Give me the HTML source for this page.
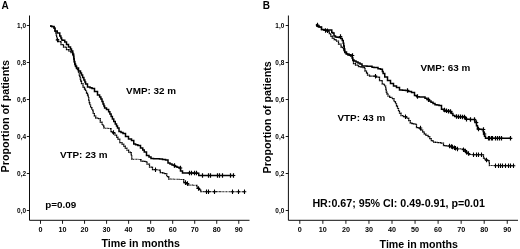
<!DOCTYPE html>
<html><head><meta charset="utf-8"><title>Figure</title>
<style>
html,body{margin:0;padding:0;background:#fff;}
body{width:520px;height:249px;overflow:hidden;}
svg{display:block;will-change:transform;opacity:0.999;}
text{font-family:"Liberation Sans",sans-serif;font-weight:bold;fill:#000;}
.tk{font-size:7.2px;}
.t9{font-size:9.9px;}
.t10{font-size:10px;}
.t10h{font-size:10.7px;}
.t10x{font-size:10.65px;}
.t10y{font-size:10.75px;}
</style></head><body>
<svg width="520" height="249" viewBox="0 0 520 249">
<rect width="520" height="249" fill="#fff"/>
<path d="M29.5,15.5V220.3H249.5" stroke="#000" stroke-width="0.95" fill="none"/>
<path d="M26.8,25.5h2.7M26.8,62.5h2.7M26.8,99.5h2.7M26.8,136.5h2.7M26.8,173.5h2.7M26.8,210.5h2.7M40.50,220.3v3.5M62.53,220.3v3.5M84.56,220.3v3.5M106.59,220.3v3.5M128.62,220.3v3.5M150.65,220.3v3.5M172.68,220.3v3.5M194.71,220.3v3.5M216.74,220.3v3.5M238.77,220.3v3.5" stroke="#000" stroke-width="0.9" fill="none"/>
<text class="tk" transform="translate(26.1,28.1) scale(0.9,1)" text-anchor="end">1,0</text>
<text class="tk" transform="translate(26.1,65.1) scale(0.9,1)" text-anchor="end">0,8</text>
<text class="tk" transform="translate(26.1,102.1) scale(0.9,1)" text-anchor="end">0,6</text>
<text class="tk" transform="translate(26.1,139.1) scale(0.9,1)" text-anchor="end">0,4</text>
<text class="tk" transform="translate(26.1,176.1) scale(0.9,1)" text-anchor="end">0,2</text>
<text class="tk" transform="translate(26.1,213.1) scale(0.9,1)" text-anchor="end">0,0</text>
<text class="tk" x="40.50" y="231.9" text-anchor="middle">0</text>
<text class="tk" x="62.53" y="231.9" text-anchor="middle">10</text>
<text class="tk" x="84.56" y="231.9" text-anchor="middle">20</text>
<text class="tk" x="106.59" y="231.9" text-anchor="middle">30</text>
<text class="tk" x="128.62" y="231.9" text-anchor="middle">40</text>
<text class="tk" x="150.65" y="231.9" text-anchor="middle">50</text>
<text class="tk" x="172.68" y="231.9" text-anchor="middle">60</text>
<text class="tk" x="194.71" y="231.9" text-anchor="middle">70</text>
<text class="tk" x="216.74" y="231.9" text-anchor="middle">80</text>
<text class="tk" x="238.77" y="231.9" text-anchor="middle">90</text>
<path d="M288.4,15.5V220.3H518" stroke="#000" stroke-width="0.95" fill="none"/>
<path d="M285.7,25.5h2.7M285.7,62.5h2.7M285.7,99.5h2.7M285.7,136.5h2.7M285.7,173.5h2.7M285.7,210.5h2.7M299.80,220.3v3.5M322.85,220.3v3.5M345.90,220.3v3.5M368.95,220.3v3.5M392.00,220.3v3.5M415.05,220.3v3.5M438.10,220.3v3.5M461.15,220.3v3.5M484.20,220.3v3.5M507.25,220.3v3.5" stroke="#000" stroke-width="0.9" fill="none"/>
<text class="tk" transform="translate(284.29999999999995,28.1) scale(0.9,1)" text-anchor="end">1,0</text>
<text class="tk" transform="translate(284.29999999999995,65.1) scale(0.9,1)" text-anchor="end">0,8</text>
<text class="tk" transform="translate(284.29999999999995,102.1) scale(0.9,1)" text-anchor="end">0,6</text>
<text class="tk" transform="translate(284.29999999999995,139.1) scale(0.9,1)" text-anchor="end">0,4</text>
<text class="tk" transform="translate(284.29999999999995,176.1) scale(0.9,1)" text-anchor="end">0,2</text>
<text class="tk" transform="translate(284.29999999999995,213.1) scale(0.9,1)" text-anchor="end">0,0</text>
<text class="tk" x="299.80" y="231.9" text-anchor="middle">0</text>
<text class="tk" x="322.85" y="231.9" text-anchor="middle">10</text>
<text class="tk" x="345.90" y="231.9" text-anchor="middle">20</text>
<text class="tk" x="368.95" y="231.9" text-anchor="middle">30</text>
<text class="tk" x="392.00" y="231.9" text-anchor="middle">40</text>
<text class="tk" x="415.05" y="231.9" text-anchor="middle">50</text>
<text class="tk" x="438.10" y="231.9" text-anchor="middle">60</text>
<text class="tk" x="461.15" y="231.9" text-anchor="middle">70</text>
<text class="tk" x="484.20" y="231.9" text-anchor="middle">80</text>
<text class="tk" x="507.25" y="231.9" text-anchor="middle">90</text>
<polyline points="50,26 51.75,26.0 51.75,26.5 53.5,26.5 54.0,26.5 54.0,28.0 54.5,28.0 55.0,28.0 55.0,31.0 55.5,31.0 55.75,31.0 55.75,33.0 56.0,33.0 56.25,33.0 56.25,35.0 56.5,35.0 56.62,35.0 56.62,37.25 56.75,37.25 56.88,37.25 56.88,39.5 57.0,39.5 58.5,39.5 58.5,41.5 60.0,41.5 61.0,41.5 61.0,44.5 62.0,44.5 63.5,44.5 63.5,47.0 65.0,47.0 66.5,47.0 66.5,49.5 68.0,49.5 69.0,49.5 69.0,51.0 70.0,51.0 71.0,51.0 71.0,52.5 72.0,52.5 72.75,52.5 72.75,55.0 73.5,55.0 73.62,55.0 73.62,57.25 73.75,57.25 73.88,57.25 73.88,59.5 74.0,59.5 74.25,59.5 74.25,62.0 74.5,62.0 74.75,62.0 74.75,64.5 75.0,64.5 75.5,64.5 75.5,66.5 76.0,66.5 76.5,66.5 76.5,68.5 77.0,68.5 77.5,68.5 77.5,69.5 78.0,69.5 78.5,69.5 78.5,73.0 79.0,73.0 79.25,73.0 79.25,75.0 79.5,75.0 79.75,75.0 79.75,77.0 80.0,77.0 80.25,77.0 80.25,79.0 80.5,79.0 80.75,79.0 80.75,81.0 81.0,81.0 81.5,81.0 81.5,83.5 82.0,83.5 83.0,83.5 83.0,87.0 84.0,87.0 84.5,87.0 84.5,89.0 85.0,89.0 85.5,89.0 85.5,91.0 86.0,91.0 86.5,91.0 86.5,93.0 87.0,93.0 87.5,93.0 87.5,95.0 88.0,95.0 88.25,95.0 88.25,97.5 88.5,97.5 88.75,97.5 88.75,100.0 89.0,100.0 89.25,100.0 89.25,102.5 89.5,102.5 89.75,102.5 89.75,105.0 90.0,105.0 90.62,105.0 90.62,107.5 91.25,107.5 91.88,107.5 91.88,110.0 92.5,110.0 93.12,110.0 93.12,113.0 93.75,113.0 94.38,113.0 94.38,116.0 95.0,116.0 95.75,116.0 95.75,118.0 96.5,118.0 97.75,118.0 97.75,118.5 99.0,118.5 100.25,118.5 100.25,122.0 101.5,122.0 102.0,122.0 102.0,124.0 102.5,124.0 103.0,124.0 103.0,126.0 103.5,126.0 104.0,126.0 104.0,128.0 104.5,128.0" fill="none" stroke="#000" stroke-width="1.25" stroke-dasharray="1.5 0.3"/>
<polyline points="104.5,128 105.88,128.0 105.88,128.25 107.25,128.25 108.62,128.25 108.62,128.5 110.0,128.5" fill="none" stroke="#000" stroke-width="1.05" stroke-dasharray="0.9 0.55"/>
<polyline points="110,128.5 111.0,128.5 111.0,131.5 112.0,131.5 113.0,131.5 113.0,133.25 114.0,133.25 115.0,133.25 115.0,135.0 116.0,135.0 116.62,135.0 116.62,137.0 117.25,137.0 117.88,137.0 117.88,139.0 118.5,139.0 119.75,139.0 119.75,142.5 121.0,142.5 122.0,142.5 122.0,144.0 123.0,144.0 123.75,144.0 123.75,146.0 124.5,146.0 125.25,146.0 125.25,148.0 126.0,148.0 126.88,148.0 126.88,150.0 127.75,150.0 128.62,150.0 128.62,152.0 129.5,152.0 130.25,152.0 130.25,152.5 131.0,152.5 131.25,152.5 131.25,155.75 131.5,155.75 131.75,155.75 131.75,159.0 132.0,159.0" fill="none" stroke="#000" stroke-width="1.25" stroke-dasharray="1.5 0.3"/>
<polyline points="132,159 133.33,159.0 133.33,159.17 134.67,159.17 136.0,159.17 136.0,159.33 137.33,159.33 138.67,159.33 138.67,159.5 140.0,159.5" fill="none" stroke="#000" stroke-width="1.05" stroke-dasharray="0.9 0.55"/>
<polyline points="140,159.5 141.0,159.5 141.0,161.0 142.0,161.0 143.0,161.0 143.0,161.25 144.0,161.25 145.0,161.25 145.0,161.5 146.0,161.5 147.0,161.5 147.0,164.0 148.0,164.0 149.5,164.0 149.5,167.0 151.0,167.0 152.5,167.0 152.5,169.5 154.0,169.5" fill="none" stroke="#000" stroke-width="1.25" stroke-dasharray="1.5 0.3"/>
<polyline points="154,169.5 155.25,169.5 155.25,169.75 156.5,169.75 157.75,169.75 157.75,170.0 159.0,170.0" fill="none" stroke="#000" stroke-width="1.05" stroke-dasharray="0.9 0.55"/>
<polyline points="159,170 160.25,170.0 160.25,172.5 161.5,172.5 162.62,172.5 162.62,173.0 163.75,173.0 164.88,173.0 164.88,173.5 166.0,173.5 166.75,173.5 166.75,176.5 167.5,176.5 168.75,176.5 168.75,179.0 170.0,179.0" fill="none" stroke="#000" stroke-width="1.25" stroke-dasharray="1.5 0.3"/>
<polyline points="170,179 171.3,179.0 171.3,179.1 172.6,179.1 173.9,179.1 173.9,179.2 175.2,179.2 176.5,179.2 176.5,179.3 177.8,179.3 179.1,179.3 179.1,179.4 180.4,179.4 181.7,179.4 181.7,179.5 183.0,179.5" fill="none" stroke="#000" stroke-width="1.05" stroke-dasharray="0.9 0.55"/>
<polyline points="183,179.5 183.75,179.5 183.75,182.5 184.5,182.5 185.62,182.5 185.62,183.75 186.75,183.75 187.88,183.75 187.88,185.0 189.0,185.0" fill="none" stroke="#000" stroke-width="1.25" stroke-dasharray="1.5 0.3"/>
<polyline points="189,185 190.17,185.0 190.17,185.1 191.33,185.1 192.5,185.1 192.5,185.2 193.67,185.2 194.83,185.2 194.83,185.3 196.0,185.3" fill="none" stroke="#000" stroke-width="1.05" stroke-dasharray="0.9 0.55"/>
<polyline points="196,185.3 197.0,185.3 197.0,188.0 198.0,188.0 199.0,188.0 199.0,189.5 200.0,189.5 200.75,189.5 200.75,191.6 201.5,191.6" fill="none" stroke="#000" stroke-width="1.25" stroke-dasharray="1.5 0.3"/>
<polyline points="201.5,191.6 202.78,191.6 202.78,191.61 204.06,191.61 205.34,191.61 205.34,191.61 206.62,191.61 207.9,191.61 207.9,191.62 209.18,191.62 210.46,191.62 210.46,191.62 211.74,191.62 213.01,191.62 213.01,191.63 214.29,191.63 215.57,191.63 215.57,191.64 216.85,191.64 218.13,191.64 218.13,191.64 219.41,191.64 220.69,191.64 220.69,191.65 221.97,191.65 223.25,191.65 223.25,191.65 224.53,191.65 225.81,191.65 225.81,191.66 227.09,191.66 228.37,191.66 228.37,191.66 229.65,191.66 230.93,191.66 230.93,191.67 232.21,191.67 233.49,191.67 233.49,191.68 234.76,191.68 236.04,191.68 236.04,191.68 237.32,191.68 238.6,191.68 238.6,191.69 239.88,191.69 241.16,191.69 241.16,191.69 242.44,191.69 243.72,191.69 243.72,191.7 245.0,191.7" fill="none" stroke="#000" stroke-width="1.05" stroke-dasharray="0.9 0.55"/>
<polyline points="50,26 51.75,26.0 51.75,26.5 53.5,26.5 54.0,26.5 54.0,28.0 54.5,28.0 55.0,28.0 55.0,31.0 55.5,31.0 57.25,31.0 57.25,33.0 59.0,33.0 59.75,33.0 59.75,36.0 60.5,36.0 60.88,36.0 60.88,38.0 61.25,38.0 61.62,38.0 61.62,40.0 62.0,40.0 62.75,40.0 62.75,40.2 63.5,40.2 64.75,40.2 64.75,42.0 66.0,42.0 66.5,42.0 66.5,44.5 67.0,44.5 68.5,44.5 68.5,47.0 70.0,47.0 70.5,47.0 70.5,49.0 71.0,49.0 71.5,49.0 71.5,51.0 72.0,51.0 72.75,51.0 72.75,54.0 73.5,54.0 73.62,54.0 73.62,56.5 73.75,56.5 73.88,56.5 73.88,59.0 74.0,59.0 74.25,59.0 74.25,61.5 74.5,61.5 74.75,61.5 74.75,64.0 75.0,64.0 75.5,64.0 75.5,66.0 76.0,66.0 76.5,66.0 76.5,68.0 77.0,68.0 78.5,68.0 78.5,71.0 80.0,71.0 80.5,71.0 80.5,73.0 81.0,73.0 81.5,73.0 81.5,75.0 82.0,75.0 82.62,75.0 82.62,77.5 83.25,77.5 83.88,77.5 83.88,80.0 84.5,80.0 84.88,80.0 84.88,82.0 85.25,82.0 85.62,82.0 85.62,84.0 86.0,84.0 87.5,84.0 87.5,87.0 89.0,87.0 90.0,87.0 90.0,87.75 91.0,87.75 92.0,87.75 92.0,88.5 93.0,88.5 94.5,88.5 94.5,91.5 96.0,91.5 97.5,91.5 97.5,95.0 99.0,95.0 99.62,95.0 99.62,97.0 100.25,97.0 100.88,97.0 100.88,99.0 101.5,99.0 102.0,99.0 102.0,101.5 102.5,101.5 103.0,101.5 103.0,104.0 103.5,104.0 103.88,104.0 103.88,106.0 104.25,106.0 104.62,106.0 104.62,108.0 105.0,108.0 106.5,108.0 106.5,109.5 108.0,109.5 108.62,109.5 108.62,111.75 109.25,111.75 109.88,111.75 109.88,114.0 110.5,114.0 111.12,114.0 111.12,116.5 111.75,116.5 112.38,116.5 112.38,119.0 113.0,119.0 113.75,119.0 113.75,121.5 114.5,121.5 115.25,121.5 115.25,124.0 116.0,124.0 116.5,124.0 116.5,126.0 117.0,126.0 117.5,126.0 117.5,128.0 118.0,128.0 119.0,128.0 119.0,131.5 120.0,131.5 121.0,131.5 121.0,132.5 122.0,132.5 123.0,132.5 123.0,133.5 124.0,133.5 125.5,133.5 125.5,136.5 127.0,136.5 128.5,136.5 128.5,139.0 130.0,139.0 131.5,139.0 131.5,140.5 133.0,140.5 133.75,140.5 133.75,144.0 134.5,144.0 135.62,144.0 135.62,144.75 136.75,144.75 137.88,144.75 137.88,145.5 139.0,145.5 140.5,145.5 140.5,148.0 142.0,148.0 142.75,148.0 142.75,150.0 143.5,150.0 144.25,150.0 144.25,152.0 145.0,152.0 146.5,152.0 146.5,155.5 148.0,155.5 149.0,155.5 149.0,157.0 150.0,157.0 151.0,157.0 151.0,158.5 152.0,158.5 153.5,158.5 153.5,158.67 155.0,158.67 156.5,158.67 156.5,158.83 158.0,158.83 159.5,158.83 159.5,159.0 161.0,159.0 162.5,159.0 162.5,159.5 164.0,159.5 165.5,159.5 165.5,160.0 167.0,160.0 168.0,160.0 168.0,163.0 169.0,163.0 170.0,163.0 170.0,164.0 171.0,164.0 172.0,164.0 172.0,165.0 173.0,165.0 174.5,165.0 174.5,166.5 176.0,166.5 177.0,166.5 177.0,167.25 178.0,167.25 179.0,167.25 179.0,168.0 180.0,168.0 180.5,168.0 180.5,171.0 181.0,171.0 182.5,171.0 182.5,173.0 184.0,173.0 185.4,173.0 185.4,173.04 186.8,173.04 188.2,173.04 188.2,173.08 189.6,173.08 191.0,173.08 191.0,173.12 192.4,173.12 193.8,173.12 193.8,173.16 195.2,173.16 196.6,173.16 196.6,173.2 198.0,173.2 198.75,173.2 198.75,175.5 199.5,175.5 200.83,175.5 200.83,175.51 202.15,175.51 203.48,175.51 203.48,175.52 204.81,175.52 206.13,175.52 206.13,175.52 207.46,175.52 208.79,175.52 208.79,175.53 210.12,175.53 211.44,175.53 211.44,175.54 212.77,175.54 214.1,175.54 214.1,175.55 215.42,175.55 216.75,175.55 216.75,175.55 218.08,175.55 219.4,175.55 219.4,175.56 220.73,175.56 222.06,175.56 222.06,175.57 223.38,175.57 224.71,175.57 224.71,175.58 226.04,175.58 227.37,175.58 227.37,175.58 228.69,175.58 230.02,175.58 230.02,175.59 231.35,175.59 232.67,175.59 232.67,175.6 234.0,175.6" fill="none" stroke="#000" stroke-width="1.5"/>
<polyline points="316,25 317.0,25.0 317.0,26.0 318.0,26.0 319.0,26.0 319.0,27.0 320.0,27.0 321.5,27.0 321.5,29.5 323.0,29.5 324.0,29.5 324.0,30.0 325.0,30.0 326.75,30.0 326.75,31.0 328.5,31.0 329.25,31.0 329.25,33.5 330.0,33.5 330.75,33.5 330.75,36.0 331.5,36.0 332.25,36.0 332.25,38.0 333.0,38.0 334.0,38.0 334.0,39.5 335.0,39.5 336.0,39.5 336.0,41.0 337.0,41.0 338.5,41.0 338.5,44.0 340.0,44.0 341.0,44.0 341.0,47.0 342.0,47.0 342.75,47.0 342.75,48.5 343.5,48.5 343.88,48.5 343.88,50.5 344.25,50.5 344.62,50.5 344.62,52.5 345.0,52.5 346.0,52.5 346.0,53.9 347.0,53.9 348.0,53.9 348.0,55.3 349.0,55.3 350.5,55.3 350.5,56.0 352.0,56.0 352.25,56.0 352.25,58.25 352.5,58.25 352.75,58.25 352.75,60.5 353.0,60.5 353.5,60.5 353.5,63.5 354.0,63.5 355.5,63.5 355.5,65.0 357.0,65.0 358.5,65.0 358.5,66.5 360.0,66.5 361.0,66.5 361.0,67.0 362.0,67.0 363.0,67.0 363.0,67.5 364.0,67.5 365.0,67.5 365.0,71.0 366.0,71.0 366.5,71.0 366.5,73.0 367.0,73.0 367.5,73.0 367.5,75.0 368.0,75.0 369.5,75.0 369.5,76.0 371.0,76.0 372.0,76.0 372.0,76.1 373.0,76.1 374.0,76.1 374.0,76.2 375.0,76.2 376.5,76.2 376.5,77.0 378.0,77.0 379.5,77.0 379.5,80.5 381.0,80.5 382.25,80.5 382.25,84.0 383.5,84.0 384.5,84.0 384.5,86.0 385.5,86.0 385.75,86.0 385.75,89.0 386.0,89.0 386.25,89.0 386.25,92.0 386.5,92.0 387.0,92.0 387.0,94.0 387.5,94.0 388.0,94.0 388.0,96.0 388.5,96.0 389.62,96.0 389.62,97.25 390.75,97.25 391.88,97.25 391.88,98.5 393.0,98.5 394.0,98.5 394.0,101.5 395.0,101.5 395.5,101.5 395.5,103.75 396.0,103.75 396.5,103.75 396.5,106.0 397.0,106.0 397.5,106.0 397.5,108.0 398.0,108.0 398.5,108.0 398.5,110.5 399.0,110.5 399.5,110.5 399.5,113.0 400.0,113.0 401.0,113.0 401.0,115.5 402.0,115.5 403.5,115.5 403.5,116.5 405.0,116.5 406.5,116.5 406.5,118.0 408.0,118.0 408.75,118.0 408.75,120.5 409.5,120.5 410.25,120.5 410.25,123.0 411.0,123.0 412.0,123.0 412.0,123.5 413.0,123.5 414.0,123.5 414.0,124.0 415.0,124.0 416.5,124.0 416.5,127.5 418.0,127.5 419.0,127.5 419.0,128.75 420.0,128.75 421.0,128.75 421.0,130.0 422.0,130.0 422.75,130.0 422.75,132.0 423.5,132.0 424.25,132.0 424.25,134.0 425.0,134.0 426.0,134.0 426.0,135.25 427.0,135.25 428.0,135.25 428.0,136.5 429.0,136.5 429.75,136.5 429.75,138.5 430.5,138.5 431.25,138.5 431.25,140.5 432.0,140.5 433.0,140.5 433.0,142.0 434.0,142.0 435.33,142.0 435.33,142.33 436.67,142.33 438.0,142.33 438.0,142.67 439.33,142.67 440.67,142.67 440.67,143.0 442.0,143.0 443.5,143.0 443.5,145.5 445.0,145.5 446.0,145.5 446.0,145.75 447.0,145.75 448.0,145.75 448.0,146.0 449.0,146.0 450.17,146.0 450.17,146.83 451.33,146.83 452.5,146.83 452.5,147.67 453.67,147.67 454.83,147.67 454.83,148.5 456.0,148.5" fill="none" stroke="#000" stroke-width="1.25" stroke-dasharray="1.5 0.3"/>
<polyline points="456,148.5 457.5,148.5 457.5,148.75 459.0,148.75 460.5,148.75 460.5,149.0 462.0,149.0" fill="none" stroke="#000" stroke-width="1.05" stroke-dasharray="0.9 0.55"/>
<polyline points="462,149 462.5,149.0 462.5,149.3 463.0,149.3 464.25,149.3 464.25,151.4 465.5,151.4 466.75,151.4 466.75,153.5 468.0,153.5 469.0,153.5 469.0,154.5 470.0,154.5" fill="none" stroke="#000" stroke-width="1.25" stroke-dasharray="1.5 0.3"/>
<polyline points="470,154.5 471.3,154.5 471.3,154.56 472.6,154.56 473.9,154.56 473.9,154.62 475.2,154.62 476.5,154.62 476.5,154.68 477.8,154.68 479.1,154.68 479.1,154.74 480.4,154.74 481.7,154.74 481.7,154.8 483.0,154.8" fill="none" stroke="#000" stroke-width="1.05" stroke-dasharray="0.9 0.55"/>
<polyline points="483,154.8 483.5,154.8 483.5,158.0 484.0,158.0 485.0,158.0 485.0,160.0 486.0,160.0 487.5,160.0 487.5,160.5 489.0,160.5 489.12,160.5 489.12,163.0 489.25,163.0 489.38,163.0 489.38,165.5 489.5,165.5" fill="none" stroke="#000" stroke-width="1.25" stroke-dasharray="1.5 0.3"/>
<polyline points="489.5,165.5 490.86,165.5 490.86,165.52 492.22,165.52 493.58,165.52 493.58,165.54 494.94,165.54 496.31,165.54 496.31,165.57 497.67,165.57 499.03,165.57 499.03,165.59 500.39,165.59 501.75,165.59 501.75,165.61 503.11,165.61 504.47,165.61 504.47,165.63 505.83,165.63 507.19,165.63 507.19,165.66 508.56,165.66 509.92,165.66 509.92,165.68 511.28,165.68 512.64,165.68 512.64,165.7 514.0,165.7" fill="none" stroke="#000" stroke-width="1.05" stroke-dasharray="0.9 0.55"/>
<polyline points="316,25 317.0,25.0 317.0,26.0 318.0,26.0 319.0,26.0 319.0,27.0 320.0,27.0 321.5,27.0 321.5,29.5 323.0,29.5 324.0,29.5 324.0,30.0 325.0,30.0 326.5,30.0 326.5,30.0 328.0,30.0 329.5,30.0 329.5,30.0 331.0,30.0 331.75,30.0 331.75,32.5 332.5,32.5 332.75,32.5 332.75,33.0 333.0,33.0 334.0,33.0 334.0,36.0 335.0,36.0 335.5,36.0 335.5,37.0 336.0,37.0 337.0,37.0 337.0,37.25 338.0,37.25 339.0,37.25 339.0,37.5 340.0,37.5 340.75,37.5 340.75,38.5 341.5,38.5 342.25,38.5 342.25,40.5 343.0,40.5 343.25,40.5 343.25,43.25 343.5,43.25 343.75,43.25 343.75,46.0 344.0,46.0 344.25,46.0 344.25,49.0 344.5,49.0 344.75,49.0 344.75,52.0 345.0,52.0 346.5,52.0 346.5,54.0 348.0,54.0 349.0,54.0 349.0,54.75 350.0,54.75 351.0,54.75 351.0,55.5 352.0,55.5 352.25,55.5 352.25,57.75 352.5,57.75 352.75,57.75 352.75,60.0 353.0,60.0 354.0,60.0 354.0,61.0 355.0,61.0 356.0,61.0 356.0,62.0 357.0,62.0 358.0,62.0 358.0,63.0 359.0,63.0 360.0,63.0 360.0,64.0 361.0,64.0 362.0,64.0 362.0,66.0 363.0,66.0 364.33,66.0 364.33,66.1 365.67,66.1 367.0,66.1 367.0,66.2 368.33,66.2 369.67,66.2 369.67,66.3 371.0,66.3 372.0,66.3 372.0,67.3 373.0,67.3 374.0,67.3 374.0,67.4 375.0,67.4 376.0,67.4 376.0,67.5 377.0,67.5 378.0,67.5 378.0,68.8 379.0,68.8 380.5,68.8 380.5,69.3 382.0,69.3 382.38,69.3 382.38,71.4 382.75,71.4 383.12,71.4 383.12,73.5 383.5,73.5 384.75,73.5 384.75,77.0 386.0,77.0 387.5,77.0 387.5,80.5 389.0,80.5 390.5,80.5 390.5,83.5 392.0,83.5 393.5,83.5 393.5,86.0 395.0,86.0 396.5,86.0 396.5,87.5 398.0,87.5 399.5,87.5 399.5,90.0 401.0,90.0 402.5,90.0 402.5,90.25 404.0,90.25 405.5,90.25 405.5,90.5 407.0,90.5 408.5,90.5 408.5,91.5 410.0,91.5 411.5,91.5 411.5,92.5 413.0,92.5 414.5,92.5 414.5,95.5 416.0,95.5 416.75,95.5 416.75,96.8 417.5,96.8 419.12,96.8 419.12,96.9 420.75,96.9 422.38,96.9 422.38,97.0 424.0,97.0 425.0,97.0 425.0,98.25 426.0,98.25 427.0,98.25 427.0,99.5 428.0,99.5 429.0,99.5 429.0,100.9 430.0,100.9 431.0,100.9 431.0,102.3 432.0,102.3 433.0,102.3 433.0,103.5 434.0,103.5 435.0,103.5 435.0,104.7 436.0,104.7 437.0,104.7 437.0,105.1 438.0,105.1 439.0,105.1 439.0,105.5 440.0,105.5 441.5,105.5 441.5,109.3 443.0,109.3 444.0,109.3 444.0,111.0 445.0,111.0 446.5,111.0 446.5,111.25 448.0,111.25 449.5,111.25 449.5,111.5 451.0,111.5 451.62,111.5 451.62,113.5 452.25,113.5 452.88,113.5 452.88,115.5 453.5,115.5 454.75,115.5 454.75,116.5 456.0,116.5 457.5,116.5 457.5,116.67 459.0,116.67 460.5,116.67 460.5,116.83 462.0,116.83 463.5,116.83 463.5,117.0 465.0,117.0 465.5,117.0 465.5,119.3 466.0,119.3 467.33,119.3 467.33,119.37 468.67,119.37 470.0,119.37 470.0,119.43 471.33,119.43 472.67,119.43 472.67,119.5 474.0,119.5 475.0,119.5 475.0,122.5 476.0,122.5 476.5,122.5 476.5,125.75 477.0,125.75 477.5,125.75 477.5,129.0 478.0,129.0 479.25,129.0 479.25,129.25 480.5,129.25 481.75,129.25 481.75,129.5 483.0,129.5 483.25,129.5 483.25,131.75 483.5,131.75 483.75,131.75 483.75,134.0 484.0,134.0 484.5,134.0 484.5,136.15 485.0,136.15 485.5,136.15 485.5,138.3 486.0,138.3 487.33,138.3 487.33,138.3 488.67,138.3 490.0,138.3 490.0,138.3 491.33,138.3 492.67,138.3 492.67,138.3 494.0,138.3 495.33,138.3 495.33,138.3 496.67,138.3 498.0,138.3 498.0,138.3 499.33,138.3 500.67,138.3 500.67,138.3 502.0,138.3 503.33,138.3 503.33,138.3 504.67,138.3 506.0,138.3 506.0,138.3 507.33,138.3 508.67,138.3 508.67,138.3 510.0,138.3" fill="none" stroke="#000" stroke-width="1.5"/>
<path d="M172.7,165.5h3.6M174.5,163.2v4.6M178.7,168h3.6M180.5,165.7v4.6M187.7,173h3.6M189.5,170.7v4.6M189.7,173h3.6M191.5,170.7v4.6M192.7,173h3.6M194.5,170.7v4.6M194.7,173h3.6M196.5,170.7v4.6M200.7,175.5h3.6M202.5,173.2v4.6M206.7,175.5h3.6M208.5,173.2v4.6M208.7,175.5h3.6M210.5,173.2v4.6M215.7,175.5h3.6M217.5,173.2v4.6M217.7,175.5h3.6M219.5,173.2v4.6M220.7,175.5h3.6M222.5,173.2v4.6M228.7,175.5h3.6M230.5,173.2v4.6M231.7,175.5h3.6M233.5,173.2v4.6" stroke="#000" stroke-width="1.2" fill="none"/>
<path d="M55.7,40h3.6M57.5,37.7v4.6M111.7,132.5h3.6M113.5,130.2v4.6M153.7,169.7h3.6M155.5,167.39999999999998v4.6M183.7,182.6h3.6M185.5,180.29999999999998v4.6M185.7,183.5h3.6M187.5,181.2v4.6M196.7,188.5h3.6M198.5,186.2v4.6M204.7,191.7h3.6M206.5,189.39999999999998v4.6M206.7,191.7h3.6M208.5,189.39999999999998v4.6M212.7,191.7h3.6M214.5,189.39999999999998v4.6M230.7,191.7h3.6M232.5,189.39999999999998v4.6M236.7,191.7h3.6M238.5,189.39999999999998v4.6M242.7,191.7h3.6M244.5,189.39999999999998v4.6" stroke="#000" stroke-width="1.1" fill="none"/>
<path d="M315.7,25h3.6M317.5,22.7v4.6M338.7,36.5h3.6M340.5,34.2v4.6M350.7,55.5h3.6M352.5,53.2v4.6M405.7,90.5h3.6M407.5,88.2v4.6M415.7,96.5h3.6M417.5,94.2v4.6M426.7,99.7h3.6M428.5,97.4v4.6M442.7,110h3.6M444.5,107.7v4.6M444.7,110.8h3.6M446.5,108.5v4.6M446.7,111.2h3.6M448.5,108.9v4.6M448.7,111.5h3.6M450.5,109.2v4.6M454.7,116.5h3.6M456.5,114.2v4.6M456.7,116.7h3.6M458.5,114.4v4.6M458.7,116.8h3.6M460.5,114.5v4.6M460.7,117h3.6M462.5,114.7v4.6M462.7,117h3.6M464.5,114.7v4.6M464.7,119.3h3.6M466.5,117.0v4.6M468.7,119.5h3.6M470.5,117.2v4.6M472.7,119.5h3.6M474.5,117.2v4.6M474.7,122.5h3.6M476.5,120.2v4.6M476.7,129h3.6M478.5,126.7v4.6M481.7,129.5h3.6M483.5,127.2v4.6M482.7,134h3.6M484.5,131.7v4.6M486.7,138.3h3.6M488.5,136.0v4.6M487.7,138.3h3.6M489.5,136.0v4.6M489.7,138.3h3.6M491.5,136.0v4.6M490.7,138.3h3.6M492.5,136.0v4.6M493.7,138.3h3.6M495.5,136.0v4.6M495.7,138.3h3.6M497.5,136.0v4.6M497.7,138.3h3.6M499.5,136.0v4.6M499.7,138.3h3.6M501.5,136.0v4.6M508.7,138.3h3.6M510.5,136.0v4.6" stroke="#000" stroke-width="1.2" fill="none"/>
<path d="M323.7,30.5h3.6M325.5,28.2v4.6M325.7,30.8h3.6M327.5,28.5v4.6M373.7,76.2h3.6M375.5,73.9v4.6M403.7,116.8h3.6M405.5,114.5v4.6M418.7,128h3.6M420.5,125.7v4.6M447.7,146h3.6M449.5,143.7v4.6M449.7,146.5h3.6M451.5,144.2v4.6M450.7,147h3.6M452.5,144.7v4.6M452.7,147.7h3.6M454.5,145.39999999999998v4.6M453.7,148.3h3.6M455.5,146.0v4.6M455.7,149h3.6M457.5,146.7v4.6M461.7,149.8h3.6M463.5,147.5v4.6M463.7,151h3.6M465.5,148.7v4.6M464.7,152.2h3.6M466.5,149.89999999999998v4.6M466.7,153.5h3.6M468.5,151.2v4.6M471.7,154.7h3.6M473.5,152.39999999999998v4.6M474.7,154.7h3.6M476.5,152.39999999999998v4.6M476.7,154.7h3.6M478.5,152.39999999999998v4.6M479.7,154.7h3.6M481.5,152.39999999999998v4.6M484.7,160h3.6M486.5,157.7v4.6M493.7,165.7h3.6M495.5,163.39999999999998v4.6M496.7,165.7h3.6M498.5,163.39999999999998v4.6M498.7,165.7h3.6M500.5,163.39999999999998v4.6M500.7,165.7h3.6M502.5,163.39999999999998v4.6M503.7,165.7h3.6M505.5,163.39999999999998v4.6M506.7,165.7h3.6M508.5,163.39999999999998v4.6M508.7,165.7h3.6M510.5,163.39999999999998v4.6M511.7,165.7h3.6M513.5,163.39999999999998v4.6" stroke="#000" stroke-width="1.1" fill="none"/>
<text class="t10" x="1.6" y="9.1" >A</text>
<text class="t10" x="262.7" y="8.9" >B</text>
<text class="t9" x="126.1" y="93.7" >VMP: 32 m</text>
<text class="t9" x="59.9" y="157.7" >VTP: 23 m</text>
<text class="t9" x="45.2" y="207.7" >p=0.09</text>
<text class="t9" x="420.4" y="70.7" >VMP: 63 m</text>
<text class="t9" x="337.5" y="120.5" >VTP: 43 m</text>
<text class="t10h" x="312.4" y="207.1" >HR:0.67; 95% CI: 0.49-0.91, p=0.01</text>
<text class="t10x" x="101.5" y="246.7" >Time in months</text>
<text class="t10x" x="379.6" y="247.5" >Time in months</text>
<text class="t10y" transform="translate(9.1,172.4) rotate(-90)">Proportion of patients</text>
<text class="t10y" transform="translate(270.5,173.5) rotate(-90)">Proportion of patients</text>
</svg>
</body></html>
